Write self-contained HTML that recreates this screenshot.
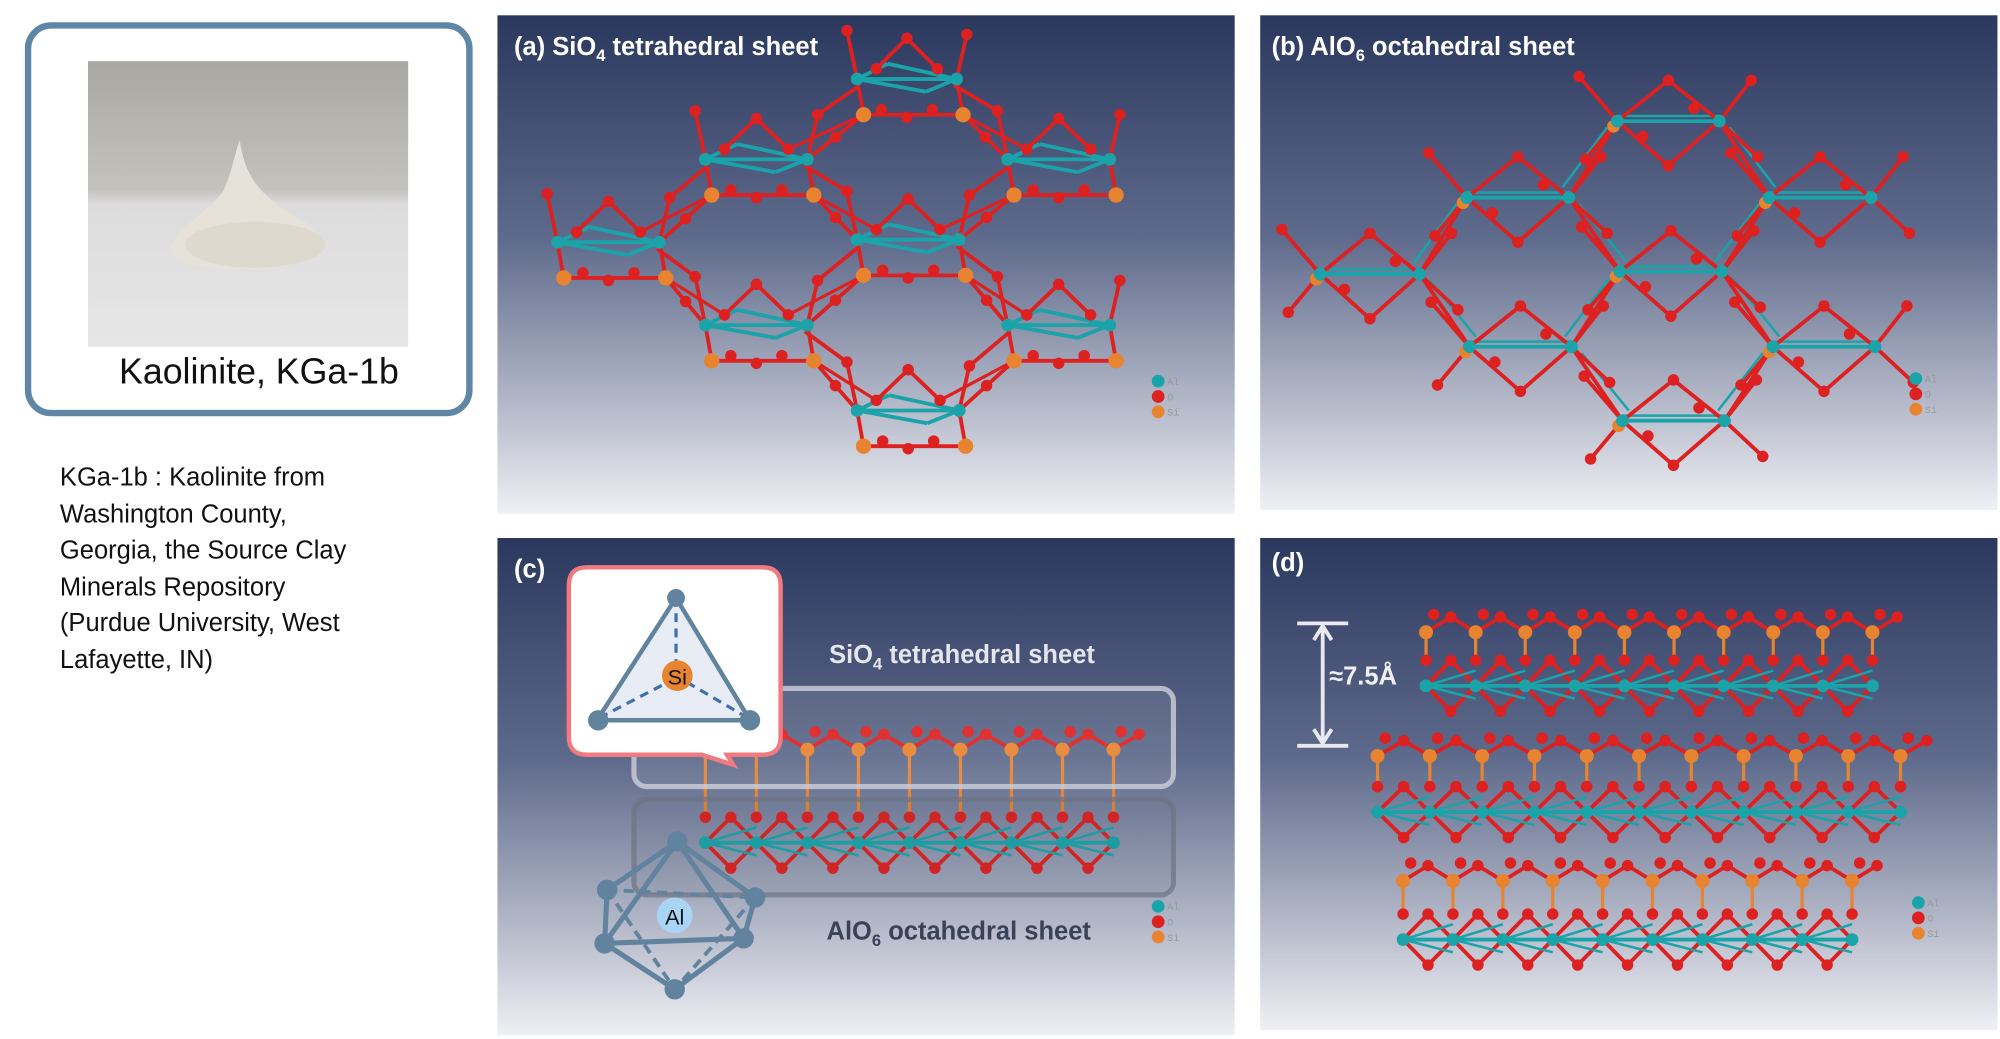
<!DOCTYPE html>
<html><head><meta charset="utf-8"><style>
html,body{margin:0;padding:0;background:#fff;width:2000px;height:1039px;overflow:hidden}
svg{display:block}
.t{font-family:"Liberation Sans Narrow","Liberation Sans",sans-serif;font-weight:bold}
</style></head><body>
<svg id="s" width="2000" height="1039" viewBox="0 0 1568 815" preserveAspectRatio="none" xmlns="http://www.w3.org/2000/svg">
<defs>
<linearGradient id="bg" x1="0" y1="0" x2="0" y2="1">
<stop offset="0" stop-color="#2b385e"/><stop offset="0.45" stop-color="#5f6b8c"/><stop offset="0.8" stop-color="#b9bdcc"/><stop offset="1" stop-color="#eef0f4"/>
</linearGradient>
<linearGradient id="ph" x1="0" y1="0" x2="0" y2="1">
<stop offset="0" stop-color="#a9a7a2"/><stop offset="0.45" stop-color="#c4c2bd"/><stop offset="0.5" stop-color="#dcdcdc"/><stop offset="1" stop-color="#e6e6e6"/>
</linearGradient>
</defs>
<rect x="22" y="20" width="346" height="304" rx="18" fill="#fff" stroke="#5f86a5" stroke-width="5"/>
<rect x="69" y="48" width="251" height="224" fill="url(#ph)"/>
<path d="M188 110 C192 140 205 155 240 175 C260 190 250 205 220 210 C190 214 150 212 135 200 C128 185 160 170 175 150 C182 135 184 120 188 110 Z" fill="#e6e2d9"/>
<ellipse cx="200" cy="192" rx="55" ry="18" fill="#ddd9cf"/>
<text x="203" y="301" text-anchor="middle" font-family="Liberation Sans,sans-serif" font-size="28" fill="#111">Kaolinite, KGa-1b</text>
<g font-family="Liberation Sans,sans-serif" font-size="20" fill="#111">
<text x="47" y="381">KGa-1b : Kaolinite from</text>
<text x="47" y="410">Washington County,</text>
<text x="47" y="438">Georgia, the Source Clay</text>
<text x="47" y="467">Minerals Repository</text>
<text x="47" y="495">(Purdue University, West</text>
<text x="47" y="524">Lafayette, IN)</text>
</g>
<rect x="390" y="12" width="578" height="391" fill="url(#bg)"/>
<rect x="988" y="12" width="578" height="388" fill="url(#bg)"/>
<rect x="390" y="422" width="578" height="390" fill="url(#bg)"/>
<rect x="988" y="422" width="578" height="386" fill="url(#bg)"/>
<g id="mol"></g>
<g class="t" fill="#fff" font-size="20">
<text x="403" y="43">(a) SiO<tspan font-size="13" dy="5">4</tspan><tspan dy="-5"> tetrahedral sheet</tspan></text>
<text x="997" y="43">(b) AlO<tspan font-size="13" dy="5">6</tspan><tspan dy="-5"> octahedral sheet</tspan></text>
<text x="403" y="453">(c)</text>
<text x="997" y="448">(d)</text>
<text x="650" y="520" fill="#e4e6ec">SiO<tspan font-size="13" dy="5">4</tspan><tspan dy="-5"> tetrahedral sheet</tspan></text>
<text x="648" y="737" fill="#3a4258">AlO<tspan font-size="13" dy="5">6</tspan><tspan dy="-5"> octahedral sheet</tspan></text>
<text x="1042" y="537" fill="#f0f0f4">≈7.5Å</text>
</g>
<g stroke="#e8e8ee" stroke-width="3" fill="none">
<line x1="1017" y1="489" x2="1057" y2="489"/><line x1="1017" y1="585" x2="1057" y2="585"/>
<line x1="1037" y1="491" x2="1037" y2="583"/>
<path d="M1030 502 L1037 491 L1044 502 M1030 572 L1037 583 L1044 572"/>
</g>
<rect x="497" y="540" width="423" height="77" rx="10" fill="rgba(255,255,255,0.08)" stroke="rgba(205,208,218,0.8)" stroke-width="4"/>
<rect x="497" y="627" width="423" height="75" rx="10" fill="rgba(80,85,100,0.08)" stroke="rgba(110,115,130,0.7)" stroke-width="4"/>
<path d="M460 445 H598 Q612 445 612 459 V578 Q612 592 598 592 H570 L575 600 L550 592 H460 Q446 592 446 578 V459 Q446 445 460 445 Z" fill="#fff" stroke="#ef7b80" stroke-width="3.5"/>
<polygon points="530,469 468,565 588,565" fill="#e8edf5" stroke="#61839e" stroke-width="3.5"/>
<g stroke="#3f6fb0" stroke-width="2.5" stroke-dasharray="7,5"><line x1="530" y1="469" x2="530" y2="525"/><line x1="470" y1="563" x2="522" y2="536"/><line x1="586" y1="563" x2="540" y2="536"/></g>
<g fill="#61839e"><circle cx="530" cy="469" r="7"/><circle cx="469" cy="565" r="8"/><circle cx="588" cy="565" r="8"/></g>
<circle cx="531" cy="530" r="12" fill="#e8832f"/>
<text x="531" y="537" text-anchor="middle" font-family="Liberation Sans,sans-serif" font-size="17" fill="#111">Si</text>
<g stroke="#61839e" stroke-width="4" fill="none" stroke-linejoin="round">
<path d="M531 660 L476 698 L474 740 L529 776 L583 736 L592 704 Z"/>
<path d="M531 660 L474 740 M531 660 L583 736 M474 740 L583 736"/>
<g stroke-dasharray="8,5" stroke-width="3"><path d="M476 698 L592 704 M476 698 L529 776 M592 704 L529 776"/></g>
</g>
<g fill="#61839e"><circle cx="531" cy="660" r="8"/><circle cx="476" cy="698" r="8"/><circle cx="592" cy="704" r="8"/><circle cx="474" cy="740" r="8"/><circle cx="583" cy="736" r="8"/><circle cx="529" cy="776" r="8"/></g>
<circle cx="529" cy="718" r="14" fill="#a8d4f5"/>
<text x="529" y="725" text-anchor="middle" font-family="Liberation Sans,sans-serif" font-size="17" fill="#111">Al</text>
<g font-family="Liberation Mono,monospace" font-size="8" fill="#999">
<circle cx="908" cy="299" r="5" fill="#1aa3a8"/><circle cx="908" cy="311" r="5" fill="#dd2020"/><circle cx="908" cy="323" r="5" fill="#e8832f"/>
<text x="915" y="302">Al</text><text x="915" y="314">O</text><text x="915" y="326">Si</text>
<circle cx="1502" cy="297" r="5" fill="#1aa3a8"/><circle cx="1502" cy="309" r="5" fill="#dd2020"/><circle cx="1502" cy="321" r="5" fill="#e8832f"/>
<text x="1509" y="300">Al</text><text x="1509" y="312">O</text><text x="1509" y="324">Si</text>
<circle cx="908" cy="711" r="5" fill="#1aa3a8"/><circle cx="908" cy="723" r="5" fill="#dd2020"/><circle cx="908" cy="735" r="5" fill="#e8832f"/>
<text x="915" y="714">Al</text><text x="915" y="726">O</text><text x="915" y="738">Si</text>
<circle cx="1504" cy="708" r="5" fill="#1aa3a8"/><circle cx="1504" cy="720" r="5" fill="#dd2020"/><circle cx="1504" cy="732" r="5" fill="#e8832f"/>
<text x="1511" y="711">Al</text><text x="1511" y="723">O</text><text x="1511" y="735">Si</text>
</g>
</svg>
<script>
var B=[],A=[];
function L(x1,y1,x2,y2,c,w){B.push('<line x1="'+x1+'" y1="'+y1+'" x2="'+x2+'" y2="'+y2+'" stroke="'+c+'" stroke-width="'+(w||3)+'"/>');}
function C(x,y,c,r){A.push('<circle cx="'+x+'" cy="'+y+'" r="'+(r||4.5)+'" fill="'+c+'"/>');}
var CY="#1aa3a8",RD="#dd2020",OR="#e8832f";
function clusterA(x1,x2,y){var m=(x1+x2)/2;
 L(x1,y,x2,y,CY,3);L(x1,y,m-15,y-12,CY);L(m-15,y-12,x2,y,CY);L(x1,y,m+15,y+10,CY);L(m+15,y+10,x2,y,CY);
 L(m,y-32,x1+15,y-8,RD);L(m,y-32,x2-15,y-8,RD);
 L(x1,y,x1+5,y+28,RD);L(x2,y,x2+5,y+28,RD);L(x1+5,y+28,x2+5,y+28,RD);
 L(x1,y,x1-8,y-38,RD);L(x2,y,x2+8,y-35,RD);
 C(m,y-32,RD);C(x1+15,y-8,RD);C(x2-15,y-8,RD);C(m,y+30,RD);C(m-20,y+24,RD);C(m+20,y+24,RD);C(x1-8,y-38,RD);C(x2+8,y-35,RD);
 C(x1+5,y+28,OR,6);C(x2+5,y+28,OR,6);C(x1,y,CY,5);C(x2,y,CY,5);}
function clusterB(x1,x2,y){var m=(x1+x2)/2;
 L(x1,y,x2,y,CY,3);L(x1,y-4,x2,y-4,CY,2);
 L(x1,y,m,y-32,RD);L(m,y-32,x2,y,RD);L(x1,y,m,y+35,RD);L(m,y+35,x2,y,RD);
 L(x1,y,x1-30,y-35,RD);L(x2,y,x2+25,y-32,RD);L(x1,y,x1-25,y+30,RD);L(x2,y,x2+30,y+28,RD);
 C(m,y-32,RD);C(m,y+35,RD);C(x1-30,y-35,RD);C(x2+25,y-32,RD);C(x1-25,y+30,RD);C(x2+30,y+28,RD);C(m-20,y+12,RD);C(m+20,y-10,RD);
 C(x1-3,y+4,OR,5);C(x1,y,CY,5);C(x2,y,CY,5);}
var ca=[[672,750,62],[553,633,125],[790,870,125],[437,517,190],[672,752,188],[553,633,255],[790,870,255],[672,752,322]];
var cb=[[1268,1348,95],[1150,1230,155],[1387,1467,155],[1035,1113,215],[1270,1350,213],[1152,1232,272],[1390,1470,272],[1272,1352,330]];
function linksA(cs){for(var i=0;i<cs.length;i++)for(var j=0;j<cs.length;j++){var a=cs[i],b=cs[j],dy=b[2]-a[2];
 if(dy<50||dy>80)continue;
 if(Math.abs(b[0]-a[1]-40)<15){var mx=(a[1]+5+b[0])/2,my=(a[2]+28+b[2])/2;
  L(a[1]+5,a[2]+28,b[0],b[2],RD,3);L(a[1]-2,a[2]+5,b[0]-8,b[2]-38,RD,3);L(a[1]+5,a[2]+28,b[0]+15,b[2]-8,RD,2.5);C(mx,my,RD);}
 if(Math.abs(a[0]-b[1]-38)<15){var mx=(a[0]+5+b[1])/2,my=(a[2]+28+b[2])/2;
  L(a[0]+5,a[2]+28,b[1],b[2],RD,3);L(a[0]+2,a[2]+5,b[1]+8,b[2]-35,RD,3);L(a[0]+5,a[2]+28,b[1]-15,b[2]-8,RD,2.5);C(mx,my,RD);}}}
function linksB(cs){for(var i=0;i<cs.length;i++)for(var j=0;j<cs.length;j++){var a=cs[i],b=cs[j],dy=b[2]-a[2];
 if(dy<50||dy>70)continue;
 if(Math.abs(b[0]-a[1]-40)<15){L(a[1],a[2],b[0],b[2],RD,3);L(a[1]+8,a[2]+5,b[0]+5,b[2]-8,CY,2);}
 if(Math.abs(a[0]-b[1]-38)<15){L(a[0],a[2],b[1],b[2],RD,3);L(a[0]-8,a[2]+5,b[1]-5,b[2]-8,CY,2);}}}
linksA(ca);ca.forEach(function(c){clusterA(c[0],c[1],c[2]);});
linksB(cb);cb.forEach(function(c){clusterB(c[0],c[1],c[2]);});
function layer(x0,x1,yo,yc){var n=Math.round((x1-x0)/40);var st=(x1-x0)/n;
 for(var i=0;i<n;i++){var a=x0+i*st,b=a+st;
  L(a,yc,b,yc,CY,3);L(a,yc,a+st/2,yc-20,RD);L(a+st/2,yc-20,b,yc,RD);L(a,yc,a+st/2,yc+20,RD);L(a+st/2,yc+20,b,yc,RD);
  L(a,yc,b,yc-12,CY,2);L(a,yc,b,yc+10,CY,2);
  C(a+st/2,yc-20,RD);C(a+st/2,yc+20,RD);}
 for(var i=0;i<=n;i++){var a=x0+i*st;
  L(a,yo,a+st/2,yo-12,RD);if(i<n)L(a+st/2,yo-12,a+st,yo,RD);
  L(a,yo,a,yc-20,OR,2.5);C(a,yc-20,RD);C(a+st/2,yo-12,RD);C(a+6,yo-14,RD);C(a,yo,OR,5.5);C(a,yc,CY,5);}}
layer(1118,1468,496,538);layer(1080,1490,593,637);layer(1100,1452,691,737);
layer(553,873,588,661);
document.getElementById('mol').innerHTML=B.join('')+A.join('');
</script>
</body></html>
